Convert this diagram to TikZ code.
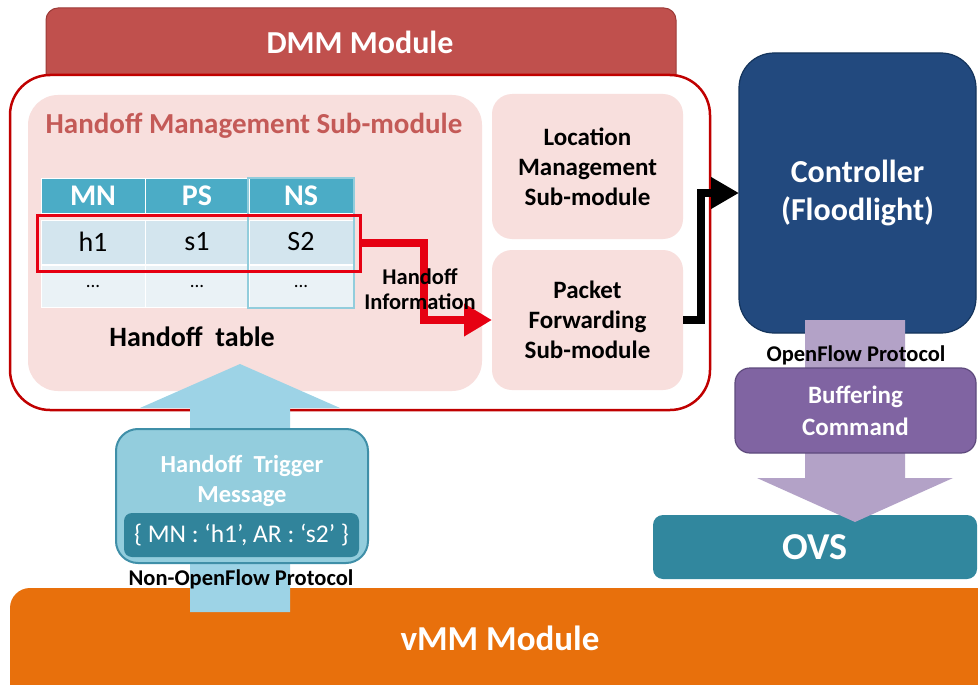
\documentclass[tikz,border=0pt]{standalone}
\usepackage{fontspec}
\setmainfont{Carlito}
\usetikzlibrary{arrows.meta}
\definecolor{dmmred}{HTML}{C0504D}
\definecolor{dmmredline}{HTML}{9C3B38}
\definecolor{dmmborder}{HTML}{C00000}
\definecolor{subpink}{HTML}{F8DFDD}
\definecolor{subtitle}{HTML}{C45A57}
\definecolor{tabhead}{HTML}{4BACC6}
\definecolor{tabrowa}{HTML}{D3E5EE}
\definecolor{tabrowb}{HTML}{EAF2F6}
\definecolor{nsline}{HTML}{92CDDC}
\definecolor{hotred}{HTML}{E60012}
\definecolor{ctrlblue}{HTML}{22497E}
\definecolor{ctrlline}{HTML}{14345C}
\definecolor{lilac}{HTML}{B3A2C7}
\definecolor{bufpurple}{HTML}{8064A2}
\definecolor{bufline}{HTML}{5E4A7D}
\definecolor{ovsteal}{HTML}{31879E}
\definecolor{vmmorange}{HTML}{E8700C}
\definecolor{skyblue}{HTML}{9DD3E6}
\definecolor{trigfill}{HTML}{93CDDD}
\definecolor{trigline}{HTML}{3F8FA8}
\definecolor{trigdark}{HTML}{31849B}
\newcommand{\fs}[1]{\fontsize{#1}{#1}\selectfont}
\begin{document}
\begin{tikzpicture}[x=1pt,y=-1pt,
  box/.style={anchor=north west, inner sep=0pt, outer sep=0pt, align=center},
  subbox/.style={box, fill=subpink, rounded corners=20pt, font=\fs{25}\bfseries, text=black},
  cellhead/.style={box, fill=tabhead, draw=white, line width=1pt, text=white, font=\fs{30}\bfseries, minimum height=35pt},
  cella/.style={box, fill=tabrowa, draw=white, line width=1pt, text=black, font=\fs{28}, minimum height=44pt},
  cellb/.style={box, fill=tabrowb, draw=white, line width=1pt, text=black, font=\fs{19}, minimum height=42pt},
  whitetext/.style={text=white, font=\bfseries, inner sep=0pt, align=center},
  blacktext/.style={text=black, font=\bfseries, inner sep=0pt, align=center},
  fatline/.style={line width=8pt, line join=miter},
]
\useasboundingbox (0,0) rectangle (978,685);
\clip (0,0) rectangle (978,685);
\fill[white] (0,0) rectangle (978,685);

% ---------- DMM module ----------
\node[box, fill=dmmred, draw=dmmredline, line width=1pt, rounded corners=12pt,
      minimum width=630pt, minimum height=80pt] (dmmhead) at (46,8) {};
\node[box, fill=white, draw=dmmborder, line width=2.5pt, rounded corners=40pt,
      minimum width=700pt, minimum height=335pt] (dmmbody) at (10,75) {};
\node[whitetext, font=\fs{32}\bfseries] (dmmlabel) at (360,42) {DMM Module};

% handoff management sub-module
\node[box, fill=subpink, rounded corners=30pt,
      minimum width=454pt, minimum height=296pt] (hms) at (28,95) {};
\node[text=subtitle, font=\fs{29}\bfseries, inner sep=0pt] (hmstitle) at (254,126)
  {Handoff Management Sub-module};

% handoff table
\node[cellhead, minimum width=104pt] (hMN) at (41,178) {MN};
\node[cellhead, minimum width=104pt] (hPS) at (145,178) {PS};
\node[cellhead, minimum width=104pt] (hNS) at (249,178) {NS};
\node[cella, minimum width=104pt] (aMN) at (41,220) {h1};
\node[cella, minimum width=104pt] (aPS) at (145,220) {s1};
\node[cella, minimum width=104pt] (aNS) at (249,220) {S2};
\node[cellb, minimum width=104pt] (bMN) at (41,265) {...};
\node[cellb, minimum width=104pt] (bPS) at (145,265) {...};
\node[cellb, minimum width=104pt] (bNS) at (249,265) {...};
\node[box, draw=nsline, line width=2pt, minimum width=106pt, minimum height=130pt] (nscol) at (248,178) {};
\node[box, draw=hotred, line width=3pt, minimum width=323pt, minimum height=56pt] (hl) at (37,215) {};
\node[blacktext, font=\fs{28}\bfseries] (tablabel) at (192,337) {Handoff\ \ table};

% location / packet forwarding sub-modules
\node[subbox, minimum width=191pt, minimum height=145pt] (loc) at (492,94)
  {Location\\[5pt]Management\\[5pt]Sub-module};
\node[subbox, minimum width=191pt, minimum height=140pt] (pf) at (492,250)
  {Packet\\[5pt]Forwarding\\[5pt]Sub-module};

% handoff information arrow
\draw[fatline, hotred, -{Triangle[length=28pt,width=31pt]}]
  (hl.east) -- (424,243) |- (pf.west);
\node[blacktext, font=\fs{22.5}\bfseries] (hinfo) at (420,289) {Handoff\\[3pt]Information};

% ---------- controller side ----------
\node[box, fill=ctrlblue, draw=ctrlline, line width=1.2pt, rounded corners=35pt,
      minimum width=237pt, minimum height=280pt, text=white, font=\fs{32}\bfseries] (ctrl) at (739,53)
  {Controller\\[6pt](Floodlight)};
\draw[fatline, black, -{Triangle[length=28pt,width=30pt]}]
  (pf.east) -- (701,320) |- (ctrl.west);

\node[box, fill=ovsteal, rounded corners=10pt, minimum width=324pt, minimum height=64pt,
      text=white, font=\fs{38}\bfseries] (ovs) at (653,515) {OVS};

\fill[lilac] (805,320) -- (905,320) -- (905,478) -- (953,478) -- (855,522)
  -- (757,478) -- (805,478) -- cycle;
\coordinate (ofp) at (856,355);
\node[blacktext, font=\fs{22.5}\bfseries] (ofplabel) at (ofp) {OpenFlow Protocol};
\node[box, fill=bufpurple, draw=bufline, line width=1.2pt, rounded corners=15pt,
      minimum width=241pt, minimum height=85pt, text=white, font=\fs{25}\bfseries] (buf) at (735,368)
  {Buffering\\[7pt]Command};

% ---------- vMM module ----------
\node[box, fill=vmmorange, rounded corners=20pt, minimum width=1000pt, minimum height=130pt] (vmm) at (10,588) {};
\node[whitetext, font=\fs{35}\bfseries] (vmmlabel) at (500,638) {vMM Module};

% trigger message arrow
\fill[skyblue] (190,612) -- (290,612) -- (290,408) -- (340,408) -- (240,364)
  -- (140,408) -- (190,408) -- cycle;
\node[box, fill=trigfill, draw=trigline, line width=2pt, rounded corners=22pt,
      minimum width=252pt, minimum height=134pt] (trig) at (116,429) {};
\node[whitetext, font=\fs{24.5}\bfseries] (trigtitle) at (242,481) {Handoff\ \ Trigger\\[6pt]Message};
\node[box, fill=trigdark, rounded corners=8pt, minimum width=235pt, minimum height=44pt,
      text=white, font=\fs{25.5}] (trigmsg) at (124,513) {\{ MN : ‘h1’, AR : ‘s2’ \}};
\node[blacktext, font=\fs{22.5}\bfseries] (nonof) at (241,579) {Non-OpenFlow Protocol};
\end{tikzpicture}
\end{document}
